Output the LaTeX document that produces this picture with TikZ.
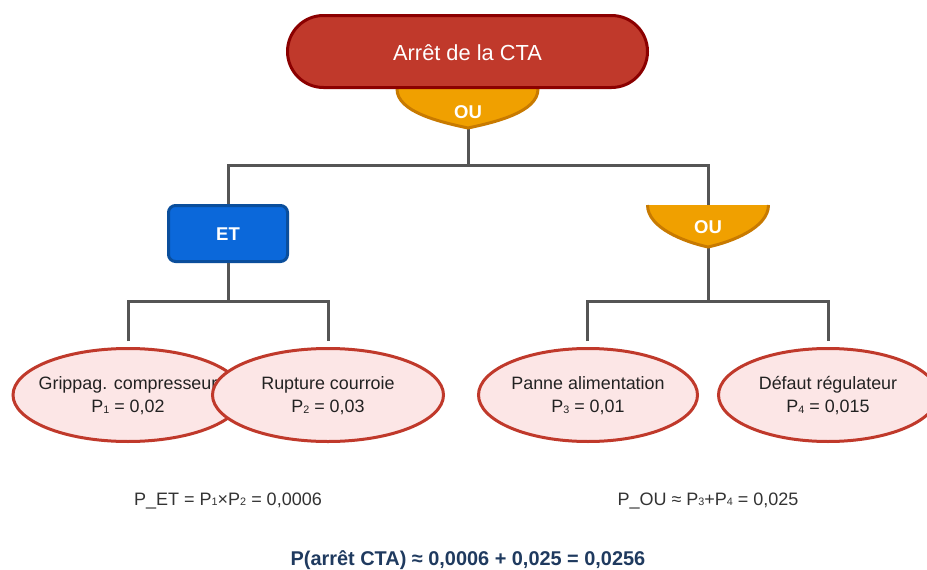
\documentclass[tikz,border=0pt]{standalone}
\usepackage{fontspec}
\setmainfont{Liberation Sans}
\usetikzlibrary{shapes.geometric}
\definecolor{titlefill}{HTML}{C0392B}
\definecolor{titleborder}{HTML}{8B0000}
\definecolor{orfill}{HTML}{F0A000}
\definecolor{orborder}{HTML}{C87A00}
\definecolor{andfill}{HTML}{0B68DA}
\definecolor{andborder}{HTML}{0A4E9C}
\definecolor{evfill}{HTML}{FCE6E6}
\definecolor{evborder}{HTML}{C0392B}
\definecolor{wirecol}{HTML}{555555}
\definecolor{navy}{HTML}{1F3A5F}
\definecolor{txtcol}{HTML}{222222}
\definecolor{calccol}{HTML}{333333}
\newcommand\subd[1]{\raisebox{-0.5pt}{\scalebox{0.6}{#1}}}
\tikzset{
  wire/.style={draw=wirecol, line width=3pt},
  titlebox/.style={draw=titleborder, fill=titlefill, line width=3pt, rounded corners=36pt,
    minimum width=360pt, minimum height=72pt, inner sep=0pt},
  titletext/.style={text=white, font=\fontsize{21.8}{26}\selectfont, anchor=base, inner sep=0pt},
  orgate/.style={fill=orfill},
  orrim/.style={draw=orborder, line width=3pt},
  gatetext/.style={text=white, font=\fontsize{18.5}{22}\selectfont\bfseries, anchor=base, inner sep=0pt},
  andbox/.style={draw=andborder, fill=andfill, line width=3pt, rounded corners=7pt,
    minimum width=119pt, minimum height=56pt, inner sep=0pt},
  event/.style={ellipse, draw=evborder, fill=evfill, line width=3pt, minimum height=93pt, inner sep=0pt},
  evtext/.style={text=txtcol, font=\fontsize{17.9}{21}\selectfont, anchor=base, inner sep=0pt},
  calc/.style={text=calccol, font=\fontsize{18}{22}\selectfont, anchor=base, inner sep=0pt},
  result/.style={text=navy, font=\fontsize{19.9}{24}\selectfont\bfseries, anchor=base, inner sep=0pt},
}
\begin{document}
\begin{tikzpicture}[x=1pt,y=-1pt]
\useasboundingbox (0,0) rectangle (927,570);
\fill[white] (0,0) rectangle (927,570);

% named points
\coordinate (ou1b) at (468,128);
\coordinate (ou2t) at (708,205);
\coordinate (ou2b) at (708,247);
\coordinate (l1) at (128,341);
\coordinate (l2) at (328,341);
\coordinate (l3) at (587,341);
\coordinate (l4) at (828,341);

% AND gate
\node[andbox] (et) at (228,233.5) {};

% wires
\draw[wire] (ou1b) -- (468,165);
\draw[wire] (et.north) -- (228,165) -- (708,165) -- (ou2t);
\draw[wire] (et.south) -- (228,301);
\draw[wire] (l1) -- (128,301) -- (328,301) -- (l2);
\draw[wire] (ou2b) -- (708,301);
\draw[wire] (l3) -- (587,301) -- (828,301) -- (l4);

% OR gate 1
\fill[orgate] (397,86) -- (397,89) .. controls (397,112) and (440,122) .. (ou1b)
  .. controls (496,122) and (538,112) .. (538,89) -- (538,86) -- cycle;
\draw[orrim] (397,86) -- (397,89) .. controls (397,112) and (440,122) .. (ou1b)
  .. controls (496,122) and (538,112) .. (538,89) -- (538,86);
\node[gatetext] (ou1) at (468,118.3) {OU};

% top event
\node[titlebox] (top) at (467.5,51.5) {};
\node[titletext] (toptxt) at (467.5,60.6) {Arrêt de la CTA};

% OR gate 2
\fill[orgate] (ou2t) -- (647.5,205) .. controls (647.5,228) and (685,242) .. (ou2b)
  .. controls (731,242) and (768.5,228) .. (768.5,205) -- cycle;
\draw[orrim] (647.5,205) .. controls (647.5,228) and (685,242) .. (ou2b)
  .. controls (731,242) and (768.5,228) .. (768.5,205);
\node[gatetext] (ou2) at (708,233.3) {OU};

\node[gatetext] (ettxt) at (228,240.7) {ET};

% basic events
\node[event, minimum width=230pt] (e1) at (128,395) {};
\node[evtext] (e1a) at (128,389) {Grippag. compresseur};
\node[evtext] (e1b) at (128,412.5) {P\subd{1} = 0,02};
\node[event, minimum width=231pt] (e2) at (328,395) {};
\node[evtext] (e2a) at (328,389) {Rupture courroie};
\node[evtext] (e2b) at (328,412.5) {P\subd{2} = 0,03};
\node[event, minimum width=219pt] (e3) at (588,395) {};
\node[evtext] (e3a) at (588,389) {Panne alimentation};
\node[evtext] (e3b) at (588,412.5) {P\subd{3} = 0,01};
\node[event, minimum width=219pt] (e4) at (828,395) {};
\node[evtext] (e4a) at (828,389) {Défaut régulateur};
\node[evtext] (e4b) at (828,412.5) {P\subd{4} = 0,015};

% calculations
\node[calc] (pet) at (228,505) {P\_ET = P\subd{1}×P\subd{2} = 0,0006};
\node[calc] (pou) at (708,505) {P\_OU ≈ P\subd{3}+P\subd{4} = 0,025};
\node[result] (res) at (468,565.5) {P(arrêt CTA) ≈ 0,0006 + 0,025 = 0,0256};
\end{tikzpicture}
\end{document}
